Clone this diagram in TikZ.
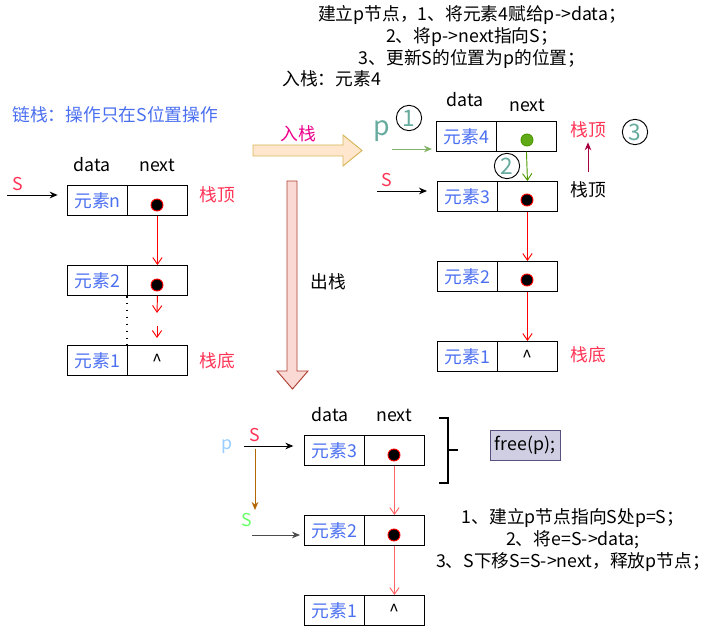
\documentclass[tikz,border=0pt]{standalone}
\usepackage{fontspec}
\setmainfont{Noto Sans CJK SC}
\usetikzlibrary{arrows.meta}

\definecolor{elemblue}{HTML}{4A6FF0}
\definecolor{topred}{HTML}{FF3355}
\definecolor{tealnum}{HTML}{67AB9F}
\definecolor{pgreen}{HTML}{82B366}
\definecolor{dotgreen}{HTML}{60A917}
\definecolor{linkgreen}{HTML}{4D9900}
\definecolor{uparrow}{HTML}{A50040}
\definecolor{brownarrow}{HTML}{B46504}
\definecolor{sgreen}{HTML}{66FF66}
\definecolor{plblue}{HTML}{99CCFF}
\definecolor{lightred}{HTML}{FF6666}
\definecolor{freefill}{HTML}{D0CEE2}
\definecolor{freedraw}{HTML}{56517E}
\definecolor{pushfill}{HTML}{FFE6CC}
\definecolor{pushdraw}{HTML}{D6B656}
\definecolor{popfill}{HTML}{FAD9D5}
\definecolor{popdraw}{HTML}{AE4132}

\tikzset{
  every node/.style={font=\fontsize{13.3pt}{16.2pt}\selectfont, inner sep=0.75pt},
  cell/.style={draw, anchor=north west, minimum width=45pt, minimum height=22.5pt, inner sep=0pt},
  datacell/.style={cell, text=elemblue},
  ptr/.style={circle, draw=red, fill=black, minimum size=9pt, inner sep=0pt},
  link/.style={red, -{Straight Barb[length=5pt,width=7pt]}},
  lightlink/.style={lightred, -{Straight Barb[length=5pt,width=7pt]}},
  headptr/.style={-{Stealth[length=6pt,width=5pt]}},
  stepnum/.style={circle, draw, text=tealnum, minimum size=19pt, inner sep=0pt, font=\fontsize{17pt}{17pt}\selectfont},
}

\begin{document}
\begin{tikzpicture}[x=0.75pt,y=0.75pt,yscale=-1,xscale=1,line width=0.7pt]
\useasboundingbox (0,0) rectangle (726,627);

% Text Node
\node (title) at (472,37) [align=center] {建立p节点，1、将元素4赋给p->data；\\2、将p->next指向S；\\3、更新S的位置为p的位置；};
% Text Node
\node (pushnote) at (281,79) [anchor=west] {入栈：元素4};
% Text Node
\node (caption) at (11,115) [anchor=west, text=elemblue] {链栈：操作只在S位置操作};

%Left list
\node (ldata) at (92,165) {data};
\node (lnext) at (157,165) {next};
\node [datacell] (ln) at (67,185) {元素n};
\node [cell] (lnx) at (127,185) {};
\node [datacell] (l2) at (67,265) {元素2};
\node [cell] (l2x) at (127,265) {};
\node [datacell] (l1) at (67,345) {元素1};
\node [cell] (l1x) at (127,345) {\textasciicircum};
\node [ptr] (lnd) at (157,205) {};
\node [ptr] (l2d) at (157,285) {};
\coordinate (lgap1) at (157,313);
\coordinate (lgap2) at (157,326);
\coordinate (lgap3) at (157,338);
\draw [link] (lnx.south) -- (l2x.north);
\draw [link] (l2x.south) -- (lgap1);
\draw [link] (lgap2) -- (lgap3);
\draw [line width=1.2pt, dash pattern=on 1.2pt off 4pt] (l2x.south west) -- (l1x.north west);
\node (ls) at (18,184) [text=topred] {S};
\coordinate (lsin) at (7,195);
\draw [headptr, shorten >=7pt] (lsin) -- (lsin -| ln.west);
\node (ltop) at (217,195) [text=topred] {栈顶};
\node (lbot) at (217,361) [text=topred] {栈底};

%Block Arrows
\draw [fill=pushfill, draw=pushdraw] (253,145) -- (343,145) -- (343,135) -- (362,150.5) -- (343,166) -- (343,156) -- (253,156) -- cycle;
\node (pushlbl) at (298,134) [text=magenta] {入栈};
\draw [fill=popfill, draw=popdraw] (287,181) -- (297,181) -- (297,371) -- (308,371) -- (292.5,389) -- (277,371) -- (287,371) -- cycle;
\node (poplbl) at (328,282) {出栈};

%Right list
\node (rdata) at (465,100) {data};
\node (rnext) at (527,105) {next};
\node [datacell] (r4) at (436,121) {元素4};
\node [cell] (r4x) at (496,121) {};
\node [datacell] (r3) at (437,181) {元素3};
\node [cell] (r3x) at (497,181) {};
\node [datacell] (r2) at (437,261) {元素2};
\node [cell] (r2x) at (497,261) {};
\node [datacell] (r1) at (437,341) {元素1};
\node [cell] (r1x) at (497,341) {\textasciicircum};
\node [circle, draw=linkgreen, fill=dotgreen, minimum size=9pt, inner sep=0pt] (r4d) at (527,140) {};
\node [ptr] (r3d) at (527,200) {};
\node [ptr] (r2d) at (527,280) {};
\draw [linkgreen, -{Straight Barb[length=5pt,width=7pt]}] (r4x.south) -- (r3x.north);
\draw [link] (r3x.south) -- (r2x.north);
\draw [link] (r2x.south) -- (r1x.north);
\node (rp) at (382,131) [text=tealnum, font=\fontsize{20pt}{20pt}\selectfont] {p};
\coordinate (rpin) at (392,149);
\draw [pgreen, headptr, shorten >=3pt] (rpin) -- (rpin -| r4.west);
\node [stepnum] (one) at (409,118) {1};
\node [stepnum] (two) at (507,166) {2};
\node [stepnum] (three) at (635,132) {3};
\node (rs) at (387,180) [text=topred] {S};
\coordinate (rsin) at (377,191);
\draw [headptr, shorten >=7.5pt] (rsin) -- (rsin -| r3.west);
\node (rtop) at (588,130) [text=topred] {栈顶};
\node (rold) at (588,190) {栈顶};
\draw [uparrow, headptr, shorten <=6pt, shorten >=2pt] (rold.north) -- (rtop.south);
\node (rbot) at (588,355) [text=topred] {栈底};

%Bottom list
\node (bdata) at (330,415) {data};
\node (bnext) at (394,415) {next};
\node [datacell] (b3) at (304,435) {元素3};
\node [cell] (b3x) at (364,435) {};
\node [datacell] (b2) at (304,515) {元素2};
\node [cell] (b2x) at (364,515) {};
\node [datacell] (b1) at (304,595) {元素1};
\node [cell] (b1x) at (364,595) {\textasciicircum};
\node [ptr] (b3d) at (394,455) {};
\node [ptr] (b2d) at (394,535) {};
\draw [lightlink] (b3x.south) -- (b2x.north);
\draw [lightlink] (b2x.south) -- (b1x.north);
\node (bp) at (227,447) [text=plblue] {p};
\node (bs) at (255,435) [text=topred] {S};
\coordinate (bsin) at (244,446);
\draw [headptr, shorten >=8pt] (bsin) -- (bsin -| b3.west);
\coordinate (bmove) at (255,510);
\draw [brownarrow, headptr, shorten <=4pt] (bs.south) -- (bmove);
\node (bs2) at (247,520) [text=sgreen] {S};
\coordinate (bs2in) at (252,535);
\draw [black!70, headptr, shorten >=3pt] (bs2in) -- (bs2in -| b2.west);

%Bracket
\draw [line width=1.5pt] (439,418) -- (448,418) -- (448,483) -- (439,483);
\draw [line width=1.5pt] (448,450) -- (458,450);
\node (freep) at (525,445) [draw=freedraw, fill=freefill, minimum width=52.5pt, minimum height=22.5pt] {free(p);};

% Text Node
\node (popnote) at (573,540) [align=center] {1、建立p节点指向S处p=S；\\2、将e=S->data;\\3、S下移S=S->next，释放p节点；};

\end{tikzpicture}
\end{document}
